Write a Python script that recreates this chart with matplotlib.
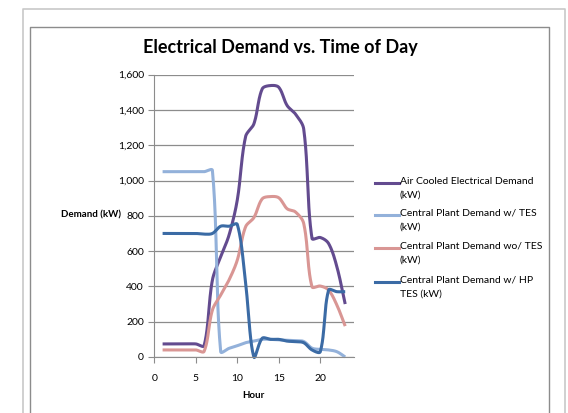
import numpy as np
import matplotlib
matplotlib.use("Agg")
import matplotlib.pyplot as plt
from matplotlib.lines import Line2D

plt.rcParams['font.family'] = ['Lato', 'DejaVu Sans']

# data
hours = [1, 2, 3, 4, 5, 6, 7, 8, 9, 10, 11, 12, 13, 14, 15, 16, 17, 18, 19, 20, 21, 22, 23]
air_cooled = [74, 74, 74, 74, 74, 64, 436, 568, 690, 890, 1249, 1321, 1519, 1538, 1528, 1425,
              1377, 1292, 672, 677, 643, 511, 300]
cp_tes = [1050, 1050, 1050, 1050, 1050, 1050, 1057, 30, 49, 64, 81, 90, 100, 100, 97, 95,
          93, 88, 50, 43, 40, 30, 0]
cp_no_tes = [40, 40, 40, 40, 40, 32, 266, 351, 436, 549, 738, 790, 896, 909, 902, 840,
             822, 757, 398, 402, 379, 294, 175]
cp_hp_tes = [700, 700, 700, 700, 700, 696, 700, 741, 741, 751, 417, 0, 106, 100, 100, 90,
             87, 81, 40, 30, 379, 370, 370]

labels = ['Air Cooled Electrical Demand\n(kW)', 'Central Plant Demand w/ TES\n(kW)',
          'Central Plant Demand wo/ TES\n(kW)', 'Central Plant Demand w/ HP\nTES (kW)']
colors = ['#634B8F', '#93B1DA', '#D99694', '#3B6BA5']

# rough pixel scale of the axes, used only to shape the smoothed curve
PX_X = 8.3
PX_Y = 0.1765


def smooth(x, y, n=24):
    # Bezier smoothing through the points, control arms scaled by chord length
    P = np.column_stack([np.asarray(x, float) * PX_X, np.asarray(y, float) * PX_Y])
    m = len(P)
    out = [P[0]]
    t = np.linspace(0, 1, n + 1)[1:, None]
    for i in range(m - 1):
        p1, p2 = P[i], P[i + 1]
        p0 = P[i - 1] if i > 0 else p1
        p3 = P[i + 2] if i + 2 < m else p2
        L01 = np.hypot(*(p1 - p0))
        L12 = np.hypot(*(p2 - p1))
        L23 = np.hypot(*(p3 - p2))
        c1 = p1 + (p2 - p0) * L12 / max(L01 + L12, 1e-9) / 3
        c2 = p2 - (p3 - p1) * L12 / max(L12 + L23, 1e-9) / 3
        seg = (1 - t) ** 3 * p1 + 3 * (1 - t) ** 2 * t * c1 + 3 * (1 - t) * t ** 2 * c2 + t ** 3 * p2
        out.extend(seg)
    out = np.array(out)
    return out[:, 0] / PX_X, out[:, 1] / PX_Y


fig = plt.figure(figsize=(5.68, 4.13), dpi=100)

# chart frames
fig.add_artist(Line2D([22.7 / 568, 22.7 / 568, 564.7 / 568, 564.7 / 568],
                      [0, 1 - 8.7 / 413, 1 - 8.7 / 413, 0], color='#c8c8c8', lw=1.2))
fig.add_artist(Line2D([30 / 568, 30 / 568, 549.3 / 568, 549.3 / 568],
                      [0, 1 - 27.3 / 413, 1 - 27.3 / 413, 0], color='#8c8c8c', lw=1.0))

ax = fig.add_axes([154.3 / 568, 1 - 357 / 413, 199.2 / 568, 282.4 / 413])

for series, col in zip([air_cooled, cp_tes, cp_no_tes, cp_hp_tes], colors):
    sx, sy = smooth(hours, series)
    ax.plot(sx, sy, color=col, lw=2.2, solid_capstyle='butt', clip_on=False)

ax.set_xlim(0, 24)
ax.set_ylim(0, 1600)
ax.set_xticks([0, 5, 10, 15, 20])
ax.set_yticks(range(0, 1601, 200))
ax.set_yticklabels([f'{v:,}' for v in range(0, 1601, 200)])
ax.yaxis.grid(True, color='#8c8c8c', lw=0.9)
ax.set_axisbelow(True)
for s in ['top', 'right']:
    ax.spines[s].set_visible(False)
for s in ['left', 'bottom']:
    ax.spines[s].set_color('#8c8c8c')
ax.tick_params(colors='#8c8c8c', labelcolor='black', labelsize=7.5, length=4, width=0.8)
ax.tick_params(axis='x', pad=8)

fig.text(280 / 568, 1 - 48 / 413, 'Electrical Demand vs. Time of Day', ha='center', va='center',
         fontsize=13, fontweight='bold')
fig.text(91 / 568, 1 - 215 / 413, 'Demand (kW)', ha='center', va='center',
         fontsize=7, fontweight='bold')
fig.text(253 / 568, 1 - 396 / 413, 'Hour', ha='center', va='center',
         fontsize=7, fontweight='bold')

# legend drawn by hand: handle beside the first line of each label
entry_y = [183, 215, 248, 282]
for lab, col, yy in zip(labels, colors, entry_y):
    fy = 1 - yy / 413
    fig.add_artist(Line2D([375 / 568, 399 / 568], [fy, fy], color=col, lw=2.2))
    fig.text(399.5 / 568, 1 - (yy - 6.5) / 413, lab, ha='left', va='top', fontsize=7.5,
             linespacing=1.75)

fig.savefig('out.png', dpi=100)
